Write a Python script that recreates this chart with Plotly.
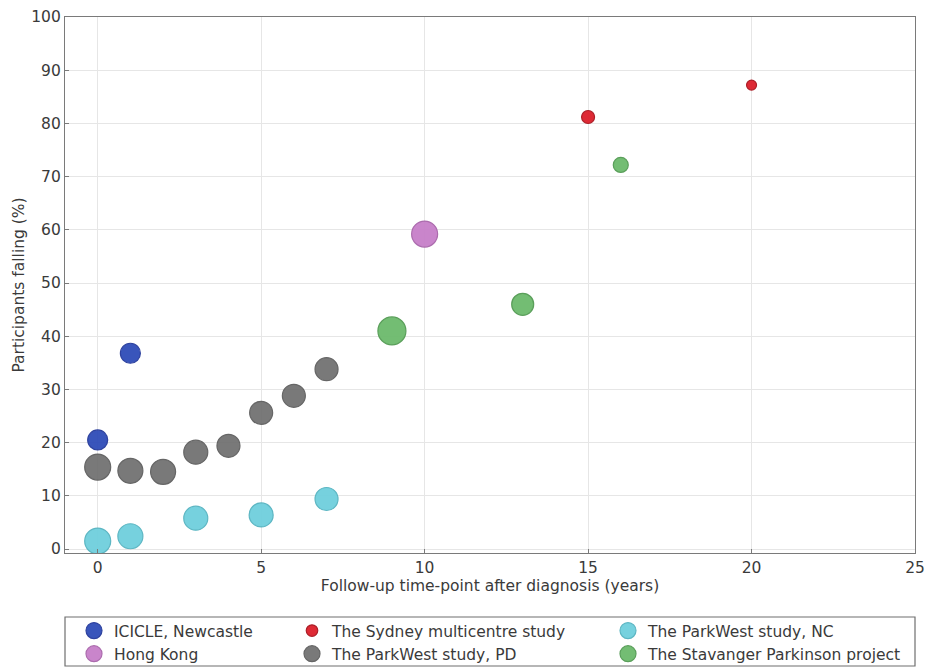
import plotly.graph_objects as go

# ---- data ----
icicle_x = [0, 1]
icicle_y = [20.5, 36.8]
icicle_s = [20, 20]

sydney_x = [15, 20]
sydney_y = [81.2, 87.2]
sydney_s = [13, 10]

nc_x = [0, 1, 3, 5, 7]
nc_y = [1.5, 2.4, 5.8, 6.4, 9.4]
nc_s = [26, 25, 24, 24, 23]

hk_x = [10]
hk_y = [59.2]
hk_s = [26]

pd_x = [0, 1, 2, 3, 4, 5, 6, 7]
pd_y = [15.4, 14.7, 14.5, 18.2, 19.4, 25.6, 28.8, 33.8]
pd_s = [26, 25, 25, 24, 23, 23, 23, 23]

stav_x = [9, 13, 16]
stav_y = [41.0, 46.0, 72.2]
stav_s = [28, 22, 15]

x_ticks = [0, 5, 10, 15, 20, 25]
y_ticks = [0, 10, 20, 30, 40, 50, 60, 70, 80, 90, 100]

FONT = "DejaVu Sans"
FS = 15.5
TXT = "#3a3a3a"
W, H = 927, 668
ML, MR, MT, MB = 65, 12, 17, 115
PW = W - ML - MR
PH = H - MT - MB


def px_x(p):
    return (p - ML) / PW


def px_y(p):
    return (H - MB - p) / PH


series = [
    ("ICICLE, Newcastle", icicle_x, icicle_y, icicle_s, "#2f4cb8", "#24399a", "legend"),
    ("Hong Kong", hk_x, hk_y, hk_s, "#c77fc9", "#a865aa", "legend"),
    ("The Sydney multicentre study", sydney_x, sydney_y, sydney_s, "#dd1f2b", "#a8141d", "legend2"),
    ("The ParkWest study, PD", pd_x, pd_y, pd_s, "#727272", "#5e5e5e", "legend2"),
    ("The ParkWest study, NC", nc_x, nc_y, nc_s, "#6fcfdd", "#55b3c0", "legend3"),
    ("The Stavanger Parkinson project", stav_x, stav_y, stav_s, "#6cba6c", "#529a52", "legend3"),
]

fig = go.Figure()
for i, (name, xs, ys, ss, col, edge, lg) in enumerate(series):
    fig.add_trace(go.Scatter(
        x=xs, y=ys, mode="markers", name=name, legend=lg,
        legendgroup=str(i),
        marker=dict(size=ss, color=col, opacity=0.95,
                    line=dict(color=edge, width=1.2)),
    ))

leg_common = dict(
    orientation="v", yanchor="top", xanchor="left",
    bgcolor="rgba(0,0,0,0)", borderwidth=0,
    font=dict(family=FONT, size=FS, color=TXT),
    itemsizing="trace", tracegroupgap=0, traceorder="grouped",
)

fig.update_layout(
    width=W, height=H,
    margin=dict(l=ML, r=MR, t=MT, b=MB, autoexpand=False),
    paper_bgcolor="white", plot_bgcolor="white",
    font=dict(family=FONT, size=FS, color=TXT),
    legend=dict(x=px_x(74), y=px_y(614), **leg_common),
    legend2=dict(x=px_x(292), y=px_y(614), **leg_common),
    legend3=dict(x=px_x(608), y=px_y(614), **leg_common),
    xaxis=dict(
        range=[-1, 25], tickvals=x_ticks, ticktext=[str(v) for v in x_ticks],
        showgrid=True, gridcolor="#e6e6e6", gridwidth=1,
        zeroline=False, showline=True, linecolor="#7a7a7a", linewidth=1.2,
        mirror=True, ticks="inside", ticklen=4, tickcolor="#7a7a7a",
        title=dict(text="Follow-up time-point after diagnosis (years)",
                   font=dict(family=FONT, size=FS, color=TXT), standoff=2),
        tickfont=dict(family=FONT, size=FS, color=TXT),
    ),
    yaxis=dict(
        range=[-0.75, 100], tickvals=y_ticks, ticktext=[str(v) for v in y_ticks],
        showgrid=True, gridcolor="#e6e6e6", gridwidth=1,
        zeroline=False, showline=True, linecolor="#7a7a7a", linewidth=1.2,
        mirror=True, ticks="inside", ticklen=4, tickcolor="#7a7a7a",
        title=dict(text="Participants falling (%)",
                   font=dict(family=FONT, size=FS, color=TXT), standoff=2),
        tickfont=dict(family=FONT, size=FS, color=TXT),
    ),
    showlegend=True,
)

# legend frame
fig.add_shape(
    type="rect", xref="paper", yref="paper",
    x0=0, x1=1, y0=px_y(666), y1=px_y(617),
    line=dict(color="#6f6f6f", width=1.2), fillcolor="rgba(0,0,0,0)",
    layer="above",
)

fig.write_html("out.html")
